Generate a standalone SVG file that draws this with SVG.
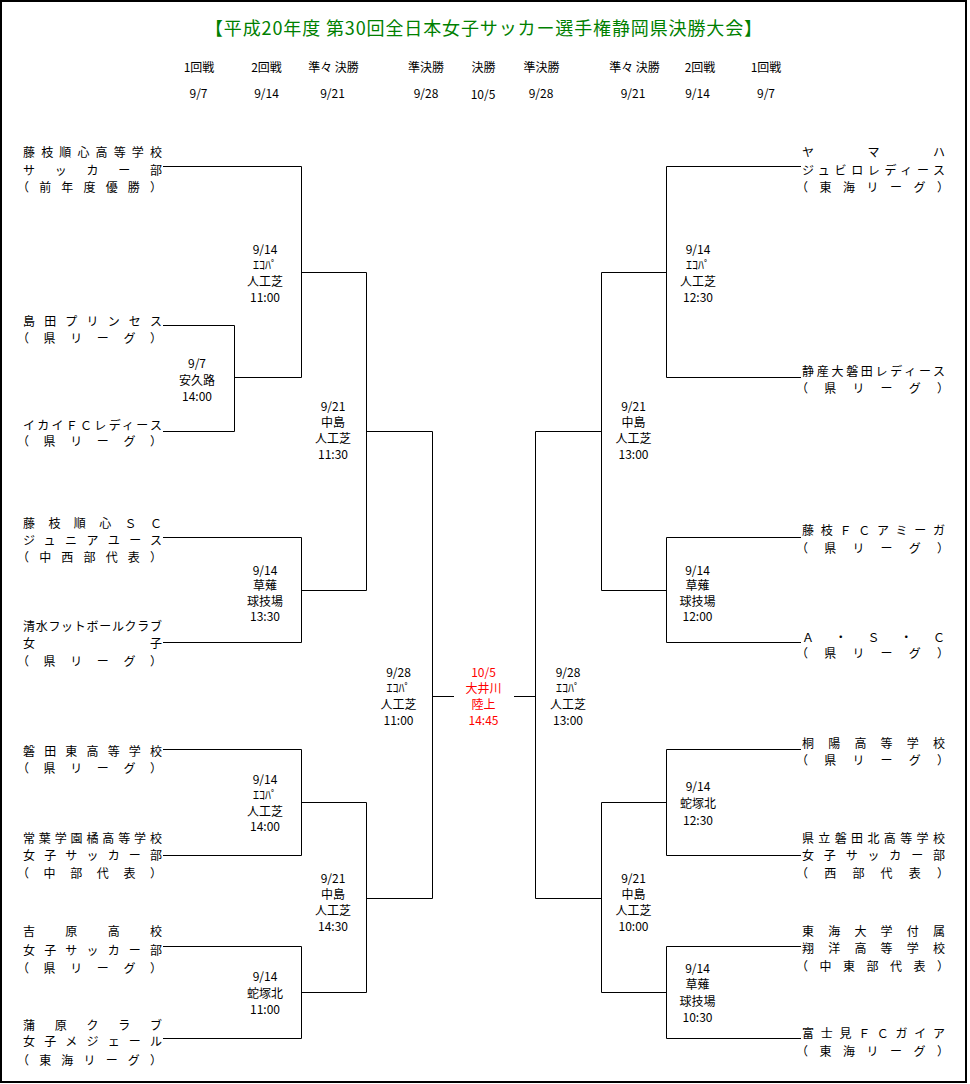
<svg xmlns="http://www.w3.org/2000/svg" width="970" height="1084" viewBox="0 0 970 1084">
<style>
text { font-family: "Noto Sans CJK JP", "Liberation Sans", sans-serif; font-size: 12px; fill: #000; }
.title { font-size: 18px; fill: #008000; }
.hd { text-anchor: middle; }
.lb { text-anchor: middle; }
.red { fill: #ff0000; }
.conn path { stroke: #000; stroke-width: 1; fill: none; }
</style>
<rect x="0" y="0" width="970" height="1084" fill="#fff"/>
<rect x="1" y="1" width="965" height="1081" fill="none" stroke="#000" stroke-width="2"/>

<g id="title">
<text class="title" x="205" y="35" textLength="557" lengthAdjust="spacing">【平成20年度 第30回全日本女子サッカー選手権静岡県決勝大会】</text>
</g>

<g id="header">
<text class="hd" x="199" y="72">1回戦</text>
<text class="hd" x="266.5" y="72">2回戦</text>
<text class="hd" x="333.5" y="72">準々 決勝</text>
<text class="hd" x="426" y="72">準決勝</text>
<text class="hd" x="483.5" y="72">決勝</text>
<text class="hd" x="541.5" y="72">準決勝</text>
<text class="hd" x="634.5" y="72">準々 決勝</text>
<text class="hd" x="700" y="72">2回戦</text>
<text class="hd" x="766" y="72">1回戦</text>
<text class="hd" x="198.5" y="98">9/7</text>
<text class="hd" x="266.5" y="98">9/14</text>
<text class="hd" x="332.5" y="98">9/21</text>
<text class="hd" x="426" y="98">9/28</text>
<text class="hd" x="483" y="99">10/5</text>
<text class="hd" x="541" y="98">9/28</text>
<text class="hd" x="633" y="98">9/21</text>
<text class="hd" x="697.5" y="98">9/14</text>
<text class="hd" x="766" y="98">9/7</text>
</g>

<g class="conn" id="connectors">
<path d="M163 325.5 H234.5 V431.5 H163 M234.5 377.5 H301.5"/>
<path d="M163 166.5 H301.5 V377.5 M301.5 272.5 H366.5"/>
<path d="M163 537.5 H301.5 V642.5 H163 M301.5 590.5 H366.5"/>
<path d="M163 749.5 H301.5 V855.5 H163 M301.5 802.5 H366.5"/>
<path d="M163 946.5 H301.5 V1038.5 H163 M301.5 992.5 H366.5"/>
<path d="M366.5 272.5 V590.5 M366.5 431.5 H432.5"/>
<path d="M366.5 802.5 V992.5 M366.5 898.5 H432.5"/>
<path d="M432.5 431.5 V898.5 M432.5 696.5 H454"/>
<path d="M535.5 431.5 V898.5 M514 696.5 H535.5"/>
<path d="M601.5 272.5 V590.5 M535.5 431.5 H601.5"/>
<path d="M601.5 802.5 V992.5 M535.5 898.5 H601.5"/>
<path d="M801 166.5 H666.5 V377.5 H801 M601.5 272.5 H666.5"/>
<path d="M801 537.5 H666.5 V642.5 H801 M601.5 590.5 H666.5"/>
<path d="M801 749.5 H666.5 V855.5 H801 M601.5 802.5 H666.5"/>
<path d="M801 946.5 H666.5 V1038.5 H801 M601.5 992.5 H666.5"/>
</g>

<g id="team-L1">
<text x="23" y="157" textLength="139" lengthAdjust="spacing">藤枝順心高等学校</text>
<text x="23" y="174.5" textLength="139" lengthAdjust="spacing">サッカー部</text>
<text x="17" y="192" textLength="145" lengthAdjust="spacing">（前年度優勝）</text>
</g>
<g id="team-L2">
<text x="23" y="326" textLength="139" lengthAdjust="spacing">島田プリンセス</text>
<text x="17" y="343" textLength="145" lengthAdjust="spacing">（県リーグ）</text>
</g>
<g id="team-L3">
<text x="23" y="429.5" textLength="139" lengthAdjust="spacing">イカイＦＣレディース</text>
<text x="17" y="446" textLength="145" lengthAdjust="spacing">（県リーグ）</text>
</g>
<g id="team-L4">
<text x="23" y="527.5" textLength="139" lengthAdjust="spacing">藤枝順心ＳＣ</text>
<text x="23" y="544.5" textLength="139" lengthAdjust="spacing">ジュニアユース</text>
<text x="17" y="562" textLength="145" lengthAdjust="spacing">（中西部代表）</text>
</g>
<g id="team-L5">
<text x="23" y="631" textLength="139" lengthAdjust="spacing">清水フットボールクラブ</text>
<text x="23" y="648" textLength="139" lengthAdjust="spacing">女子</text>
<text x="17" y="666" textLength="145" lengthAdjust="spacing">（県リーグ）</text>
</g>
<g id="team-L6">
<text x="23" y="756" textLength="139" lengthAdjust="spacing">磐田東高等学校</text>
<text x="17" y="773" textLength="145" lengthAdjust="spacing">（県リーグ）</text>
</g>
<g id="team-L7">
<text x="23" y="843" textLength="139" lengthAdjust="spacing">常葉学園橘高等学校</text>
<text x="23" y="859.5" textLength="139" lengthAdjust="spacing">女子サッカー部</text>
<text x="17" y="877.5" textLength="145" lengthAdjust="spacing">（中部代表）</text>
</g>
<g id="team-L8">
<text x="23" y="936" textLength="139" lengthAdjust="spacing">吉原高校</text>
<text x="23" y="954.5" textLength="139" lengthAdjust="spacing">女子サッカー部</text>
<text x="17" y="972.5" textLength="145" lengthAdjust="spacing">（県リーグ）</text>
</g>
<g id="team-L9">
<text x="23" y="1029.5" textLength="139" lengthAdjust="spacing">蒲原クラブ</text>
<text x="23" y="1046" textLength="139" lengthAdjust="spacing">女子メジェール</text>
<text x="17" y="1064.5" textLength="145" lengthAdjust="spacing">（東海リーグ）</text>
</g>

<g id="team-R1">
<text x="802" y="157" textLength="143" lengthAdjust="spacing">ヤマハ</text>
<text x="802" y="174.5" textLength="143" lengthAdjust="spacing">ジュビロレディース</text>
<text x="796" y="192" textLength="153" lengthAdjust="spacing">（東海リーグ）</text>
</g>
<g id="team-R2">
<text x="802" y="376" textLength="143" lengthAdjust="spacing">静産大磐田レディース</text>
<text x="796" y="393" textLength="153" lengthAdjust="spacing">（県リーグ）</text>
</g>
<g id="team-R3">
<text x="802" y="534.5" textLength="143" lengthAdjust="spacing">藤枝ＦＣアミーガ</text>
<text x="796" y="552.5" textLength="153" lengthAdjust="spacing">（県リーグ）</text>
</g>
<g id="team-R4">
<text x="802" y="641.5" textLength="143" lengthAdjust="spacing">Ａ・Ｓ・Ｃ</text>
<text x="796" y="657.5" textLength="153" lengthAdjust="spacing">（県リーグ）</text>
</g>
<g id="team-R5">
<text x="802" y="748" textLength="143" lengthAdjust="spacing">桐陽高等学校</text>
<text x="796" y="764.5" textLength="153" lengthAdjust="spacing">（県リーグ）</text>
</g>
<g id="team-R6">
<text x="802" y="843" textLength="143" lengthAdjust="spacing">県立磐田北高等学校</text>
<text x="802" y="859.5" textLength="143" lengthAdjust="spacing">女子サッカー部</text>
<text x="796" y="877.5" textLength="153" lengthAdjust="spacing">（西部代表）</text>
</g>
<g id="team-R7">
<text x="802" y="936" textLength="143" lengthAdjust="spacing">東海大学付属</text>
<text x="802" y="953" textLength="143" lengthAdjust="spacing">翔洋高等学校</text>
<text x="796" y="971" textLength="153" lengthAdjust="spacing">（中東部代表）</text>
</g>
<g id="team-R8">
<text x="802" y="1038" textLength="143" lengthAdjust="spacing">富士見ＦＣガイア</text>
<text x="796" y="1056" textLength="153" lengthAdjust="spacing">（東海リーグ）</text>
</g>

<g id="match-L-r1">
<text class="lb" x="197" y="368">9/7</text>
<text class="lb" x="197" y="385">安久路</text>
<text class="lb" x="197" y="401">14:00</text>
</g>
<g id="match-L-r2a">
<text class="lb" x="265" y="253.5">9/14</text>
<text class="lb" x="265" y="269.5">ｴｺﾊﾟ</text>
<text class="lb" x="265" y="285.5">人工芝</text>
<text class="lb" x="265" y="301.5">11:00</text>
</g>
<g id="match-L-r2b">
<text class="lb" x="265" y="575">9/14</text>
<text class="lb" x="265" y="590">草薙</text>
<text class="lb" x="265" y="605.5">球技場</text>
<text class="lb" x="265" y="620.5">13:30</text>
</g>
<g id="match-L-r2c">
<text class="lb" x="265" y="783.5">9/14</text>
<text class="lb" x="265" y="799.5">ｴｺﾊﾟ</text>
<text class="lb" x="265" y="815.5">人工芝</text>
<text class="lb" x="265" y="831">14:00</text>
</g>
<g id="match-L-r2d">
<text class="lb" x="265" y="981">9/14</text>
<text class="lb" x="265" y="997.5">蛇塚北</text>
<text class="lb" x="265" y="1014">11:00</text>
</g>
<g id="match-L-qf1">
<text class="lb" x="333" y="411">9/21</text>
<text class="lb" x="333" y="427">中島</text>
<text class="lb" x="333" y="443">人工芝</text>
<text class="lb" x="333" y="459">11:30</text>
</g>
<g id="match-L-qf2">
<text class="lb" x="333" y="882.5">9/21</text>
<text class="lb" x="333" y="898.5">中島</text>
<text class="lb" x="333" y="914.5">人工芝</text>
<text class="lb" x="333" y="930.5">14:30</text>
</g>
<g id="match-L-sf">
<text class="lb" x="398.5" y="677">9/28</text>
<text class="lb" x="398.5" y="693">ｴｺﾊﾟ</text>
<text class="lb" x="398.5" y="709">人工芝</text>
<text class="lb" x="398.5" y="725">11:00</text>
</g>
<g id="match-final">
<text class="lb red" x="483.5" y="677">10/5</text>
<text class="lb red" x="483.5" y="693">大井川</text>
<text class="lb red" x="483.5" y="709">陸上</text>
<text class="lb red" x="483.5" y="725">14:45</text>
</g>
<g id="match-R-sf">
<text class="lb" x="568" y="677">9/28</text>
<text class="lb" x="568" y="693">ｴｺﾊﾟ</text>
<text class="lb" x="568" y="709">人工芝</text>
<text class="lb" x="568" y="725">13:00</text>
</g>
<g id="match-R-qf1">
<text class="lb" x="633.5" y="411">9/21</text>
<text class="lb" x="633.5" y="427">中島</text>
<text class="lb" x="633.5" y="443">人工芝</text>
<text class="lb" x="633.5" y="459">13:00</text>
</g>
<g id="match-R-qf2">
<text class="lb" x="633.5" y="882.5">9/21</text>
<text class="lb" x="633.5" y="898.5">中島</text>
<text class="lb" x="633.5" y="914.5">人工芝</text>
<text class="lb" x="633.5" y="930.5">10:00</text>
</g>
<g id="match-R-r2a">
<text class="lb" x="698" y="253.5">9/14</text>
<text class="lb" x="698" y="269.5">ｴｺﾊﾟ</text>
<text class="lb" x="698" y="285.5">人工芝</text>
<text class="lb" x="698" y="301.5">12:30</text>
</g>
<g id="match-R-r2b">
<text class="lb" x="697.5" y="575">9/14</text>
<text class="lb" x="697.5" y="590">草薙</text>
<text class="lb" x="697.5" y="605.5">球技場</text>
<text class="lb" x="697.5" y="620.5">12:00</text>
</g>
<g id="match-R-r2c">
<text class="lb" x="698" y="791">9/14</text>
<text class="lb" x="698" y="808">蛇塚北</text>
<text class="lb" x="698" y="825">12:30</text>
</g>
<g id="match-R-r2d">
<text class="lb" x="697.5" y="972.5">9/14</text>
<text class="lb" x="697.5" y="989">草薙</text>
<text class="lb" x="697.5" y="1005.5">球技場</text>
<text class="lb" x="697.5" y="1022">10:30</text>
</g>
</svg>
